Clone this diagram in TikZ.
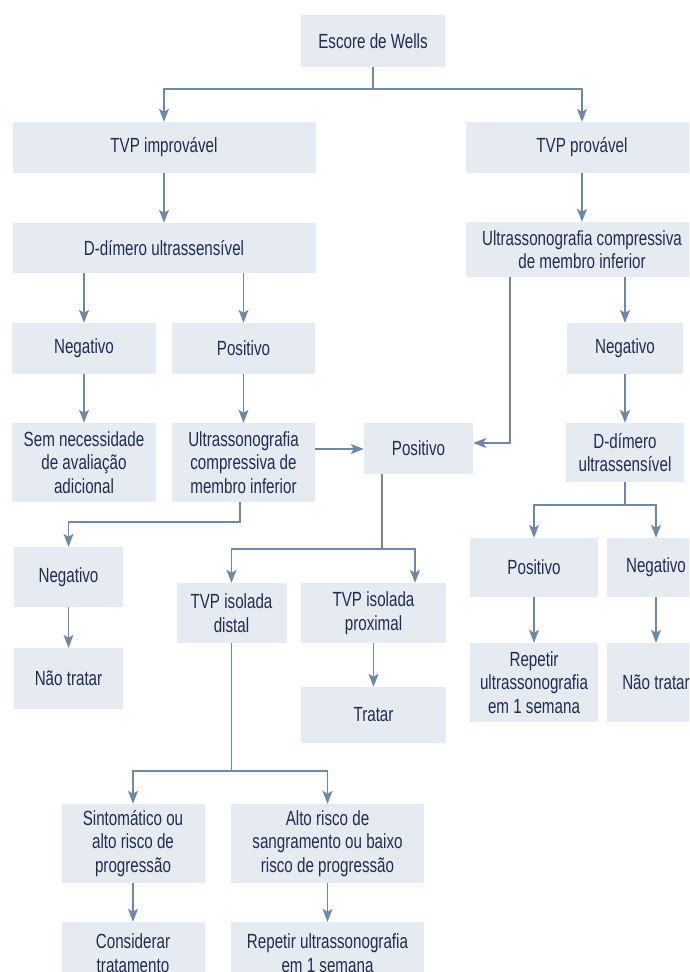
\documentclass[tikz,border=0pt]{standalone}
\usepackage{fontspec}
\setmainfont{Liberation Sans}[FakeStretch=0.74]
\usetikzlibrary{arrows.meta}
\definecolor{boxfill}{HTML}{E6EBF2}
\definecolor{linec}{HTML}{7088A5}
\definecolor{txtc}{HTML}{1F2D4E}
\begin{document}
\begin{tikzpicture}[x=1pt,y=-1pt,
  box/.style={fill=boxfill, text=txtc, align=center, inner sep=0pt,
    font=\fontsize{20.5}{23.5}\selectfont},
  sz/.style 2 args={minimum width=#1pt, minimum height=#2pt},
  conn/.style={draw=linec, line width=1.3pt},
  arr/.style={conn, -{Stealth[length=13pt,width=10pt,inset=3pt]}}]
\useasboundingbox (0,0) rectangle (689,972);
\clip (0,0) rectangle (689,972);
\fill[white] (0,0) rectangle (689,972);

% nodes
\node[box, sz={144}{52}] (wells) at (373,41) {Escore de Wells};
\node[box, sz={303}{51}] (tvpi) at (164,147.5) {TVP improvável};
\node[box, sz={232}{51}] (tvpp) at (582,147.5) {TVP provável};
\node[box, sz={303}{50}] (ddl) at (164,248) {D-dímero ultrassensível};
\node[box, sz={232}{55}] (usr) at (582,249.5) {Ultrassonografia compressiva\\de membro inferior};
\node[box, sz={144}{51}] (negl) at (84,348.5) {Negativo};
\node[box, sz={143}{51}] (posl) at (243.5,348.5) {Positivo};
\node[box, sz={116}{51}] (negr) at (625,348.5) {Negativo};
\node[box, sz={144}{79}] (sem) at (84,462.5) {Sem necessidade\\de avaliação\\adicional};
\node[box, sz={143}{79}] (usl) at (243.5,462.5) {Ultrassonografia\\compressiva de\\membro inferior};
\node[box, sz={109}{51}] (posc) at (418.5,448.5) {Positivo};
\node[box, sz={118}{59}] (ddr) at (625,452.5) {D-dímero\\ultrassensível};
\node[box, sz={109}{60}] (neg2) at (68.5,577) {Negativo};
\node[box, sz={110}{60}] (distal) at (231.5,613) {TVP isolada\\distal};
\node[box, sz={145}{60}] (prox) at (373.5,613) {TVP isolada\\proximal};
\node[box, sz={128}{59}] (posr) at (534,567.5) {Positivo};
\node[box, sz={98}{59}] (negr2) at (656,567.5) {Negativo};
\node[box, sz={109}{61}] (nt1) at (68.5,678.5) {Não tratar};
\node[box, sz={145}{56}] (tratar) at (373.5,715) {Tratar};
\node[box, sz={128}{79}] (rep1) at (534,682.5) {Repetir\\ultrassonografia\\em 1 semana};
\node[box, sz={98}{79}] (nt2) at (656,682.5) {Não tratar};
\node[box, sz={143}{79}] (sint) at (133,843.5) {Sintomático ou\\alto risco de\\progressão};
\node[box, sz={193}{79}] (alto) at (327.5,843.5) {Alto risco de\\sangramento ou baixo\\risco de progressão};
\node[box, sz={143}{62}, yshift=2pt] (cons) at (133,955) {Considerar\\tratamento};
\node[box, sz={193}{62}, yshift=2pt] (rep2) at (327.5,955) {Repetir ultrassonografia\\em 1 semana};

% junction coordinates
\coordinate (j1) at (373,89);
\coordinate (c2) at (510,443);
\coordinate (c3) at (340,449);
\coordinate (c4) at (240,522);
\coordinate (c5) at (382,549);
\coordinate (c5r) at (415,549);
\coordinate (c6) at (625,505);
\coordinate (c7) at (231.5,771);

% connectors
\draw[conn] (wells.south) -- (j1);
\draw[arr] (j1) -| (tvpi.north);
\draw[arr] (j1) -| (tvpp.north);
\draw[arr] (tvpi) -- (ddl);
\draw[arr] (tvpp) -- (usr);
\draw[arr] (ddl.south -| negl.north) -- (negl.north);
\draw[arr] (ddl.south -| posl.north) -- (posl.north);
\draw[arr] (usr.south -| negr.north) -- (negr.north);
\draw[arr] (usr.south -| c2) -- (c2) -- (posc.east |- c2);
\draw[arr] (negl) -- (sem);
\draw[arr] (posl) -- (usl);
\draw[arr] (usl.east |- c3) -- (posc.west |- c3);
\draw[arr] (negr) -- (ddr.north -| negr.south);
\draw[arr] (usl.south -| c4) -- (c4) -| (neg2.north);
\draw[conn] (posc.south -| c5) -- (c5);
\draw[arr] (c5) -| (distal.north);
\draw[arr] (c5) -- (c5r) -- (prox.north -| c5r);
\draw[conn] (ddr.south -| c6) -- (c6);
\draw[arr] (c6) -| (posr.north);
\draw[arr] (c6) -| (negr2.north);
\draw[arr] (neg2) -- (nt1);
\draw[arr] (prox) -- (tratar);
\draw[arr] (posr) -- (rep1);
\draw[arr] (negr2) -- (nt2);
\draw[conn] (distal.south) -- (c7);
\draw[arr] (c7) -| (sint.north);
\draw[arr] (c7) -| (alto.north);
\draw[arr] (sint) -- (cons);
\draw[arr] (alto) -- (rep2);
\end{tikzpicture}
\end{document}
